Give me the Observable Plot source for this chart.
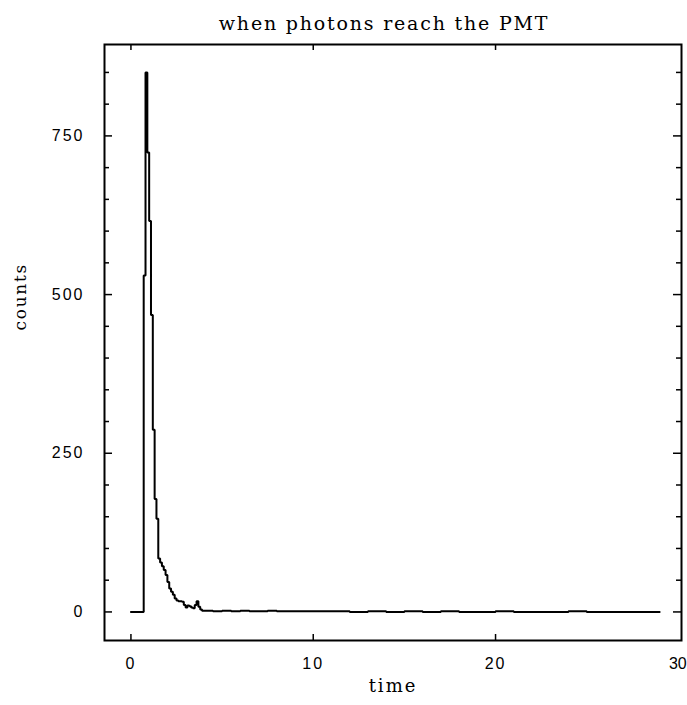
<!DOCTYPE html>
<html>
<head>
<meta charset="utf-8">
<script src="https://cdn.jsdelivr.net/npm/d3@7"></script>
<script src="https://cdn.jsdelivr.net/npm/@observablehq/plot@0.6"></script>
<style>
  html, body { margin: 0; padding: 0; background: #fff; }
  #chart svg { display: block; background: #fff; overflow: visible; }
</style>
</head>
<body>
<div id="chart"></div>
<script>
// ---- chart text ----
const titleText = "when photons reach the PMT";
const xLabelText = "time";
const yLabelText = "counts";

// ---- ticks ----
const xTickValues = [0, 10, 20, 30];
const yTickValues = [0, 250, 500, 750];
const yMinorTickValues = [50, 100, 150, 200, 300, 350, 400, 450, 550, 600, 650, 700, 800, 850];

// ---- histogram (bin start time, counts); last entry closes the final bin ----
const binStart = [
  0.0, 0.7, 0.8, 0.9, 1.0, 1.1, 1.2, 1.3, 1.4, 1.5,
  1.6, 1.7, 1.8, 1.9, 2.0, 2.1, 2.2, 2.3, 2.4, 2.5,
  2.6, 2.7, 2.8, 2.9, 3.0, 3.1, 3.2, 3.3, 3.4, 3.5,
  3.6, 3.7, 3.8, 3.9, 4.0, 4.5, 5.0, 5.5, 6.0, 6.5,
  7.0, 7.5, 8.0, 8.5, 9.0, 9.5, 10, 11, 12, 13,
  14, 15, 16, 17, 18, 19, 20, 21, 22, 23,
  24, 25, 26, 27, 28, 29
];
const binCounts = [
  0, 530, 850, 724, 616, 468, 287, 178, 147, 84,
  78, 72, 66, 58, 47, 37, 32, 27, 21, 18,
  17, 17, 16, 11, 7, 10, 9, 7, 6, 11,
  17, 8, 4, 2, 2, 1, 2, 1, 2, 1,
  1, 2, 1, 1, 1, 1, 1, 1, 0, 1,
  0, 1, 0, 1, 0, 0, 1, 0, 0, 0,
  1, 0, 0, 0, 0, 0
];

const hist = binStart.map((t, i) => ({t, c: binCounts[i]}));

// ---- layout ----
const W = 687, H = 705;
const mL = 104, mR = 6, mT = 44, mB = 65;
const innerW = W - mL - mR;
const innerH = H - mT - mB;
const serif = "DejaVu Serif";
const sans = "Liberation Sans";

const chart = Plot.plot({
  width: W,
  height: H,
  marginLeft: mL,
  marginRight: mR,
  marginTop: mT,
  marginBottom: mB,
  style: {background: "#fff", color: "#000", fontFamily: sans},
  x: {domain: [-1.45, 30.2]},
  y: {domain: [-45, 894]},
  marks: [
    // inward ticks, left and right
    Plot.tickY(yMinorTickValues, {y: d => d, insetRight: innerW - 5, strokeWidth: 1.5}),
    Plot.tickY(yTickValues, {y: d => d, insetRight: innerW - 8, strokeWidth: 1.5}),
    Plot.tickY(yMinorTickValues, {y: d => d, insetLeft: innerW - 5, strokeWidth: 1.5}),
    Plot.tickY(yTickValues, {y: d => d, insetLeft: innerW - 8, strokeWidth: 1.5}),
    // inward ticks, bottom and top
    Plot.tickX(xTickValues.filter(v => v < 30), {x: d => d, insetTop: innerH - 6, strokeWidth: 1.5}),
    Plot.tickX(xTickValues.filter(v => v < 30), {x: d => d, insetBottom: innerH - 6, strokeWidth: 1.5}),
    Plot.axisY(yTickValues, {tickSize: 0, tickPadding: 20, fontSize: 16, fontFamily: sans, label: null}),
    Plot.axisX(xTickValues, {tickSize: 0, tickPadding: 17, fontSize: 16, fontFamily: sans, label: null}),
    Plot.line(hist, {x: "t", y: "c", curve: "step-after", stroke: "#000", strokeWidth: 2, strokeLinejoin: "miter"}),
    Plot.frame({stroke: "#000", strokeWidth: 2}),
    Plot.text([titleText], {frameAnchor: "top", dx: -9, dy: -28, fontSize: 19, fontFamily: serif}),
    Plot.text([xLabelText], {frameAnchor: "bottom", dy: 51, fontSize: 18, fontFamily: serif}),
    Plot.text([yLabelText], {frameAnchor: "left", dx: -84, dy: -12, rotate: -90, fontSize: 17, fontFamily: serif})
  ]
});

document.getElementById("chart").appendChild(chart);

// letter spacing to mimic the wide typewriter-style lettering of the original
const spacing = new Map([
  [titleText, "1.8px"],
  [xLabelText, "2px"],
  [yLabelText, "1.7px"],
  ["30", "0px"]
]);
const tickLabels = new Set([...xTickValues, ...yTickValues].map(String));
d3.select(chart).selectAll("text").each(function () {
  const s = this.textContent;
  if (spacing.has(s)) d3.select(this).style("letter-spacing", spacing.get(s));
  else if (tickLabels.has(s)) d3.select(this).style("letter-spacing", "2px");
});
</script>
</body>
</html>
